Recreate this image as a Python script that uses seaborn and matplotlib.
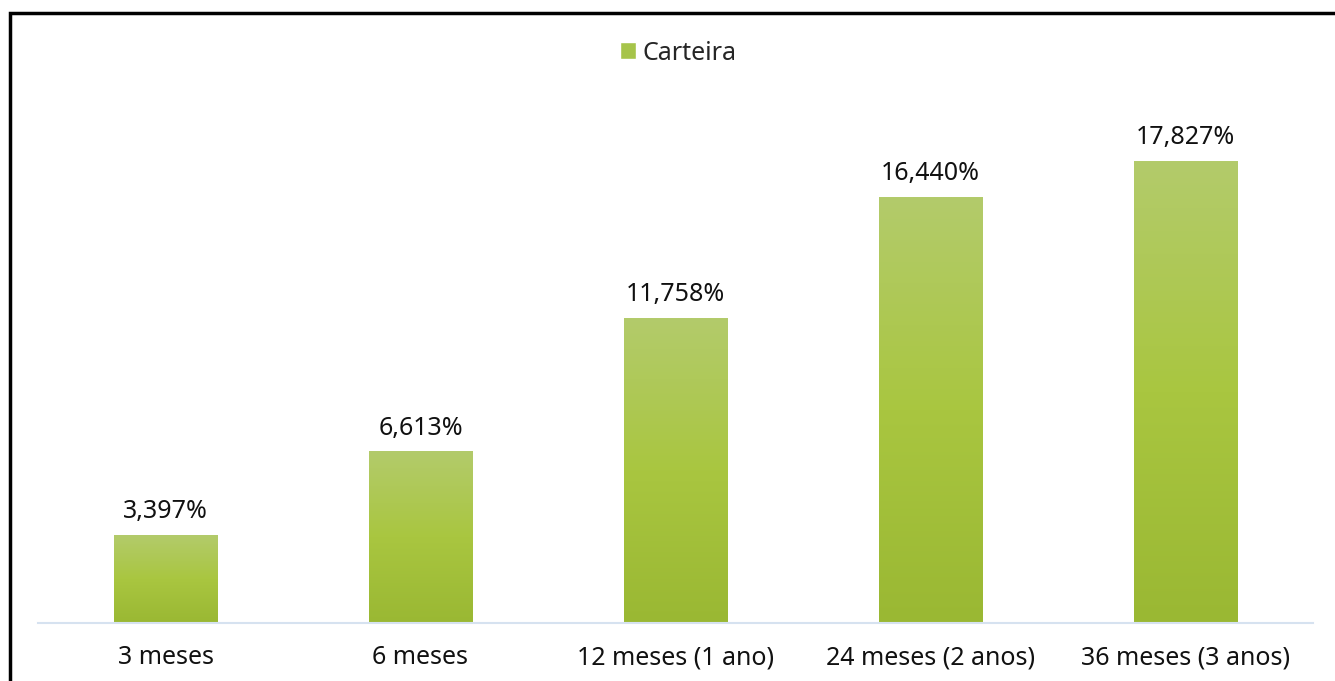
import matplotlib
matplotlib.use("Agg")
import matplotlib.pyplot as plt
import numpy as np
import seaborn as sns
from matplotlib.colors import LinearSegmentedColormap
from matplotlib.patches import Rectangle

# Data
periodos = ["3 meses", "6 meses", "12 meses (1 ano)", "24 meses (2 anos)", "36 meses (3 anos)"]
carteira = [3.397, 6.613, 11.758, 16.440, 17.827]
serie_nome = "Carteira"

W, H = 1335, 681
FS = 18
sns.set_theme(style="white")
plt.rcParams["font.family"] = ["Noto Sans", "DejaVu Sans"]

fig = plt.figure(figsize=(W / 100, H / 100), dpi=100)
ax = fig.add_axes([38 / W, 1 - 623 / H, 1275 / W, (623 - 105) / H])

sns.barplot(x=periodos, y=carteira, color="#a6c44a", width=0.404,
            label=serie_nome, ax=ax, saturation=1)

# vertical gradient on each bar: light at top, darker at the base
grad_cmap = LinearSegmentedColormap.from_list(
    "verde", ["#9ab833", "#a9c640", "#b3cb6b"])
grad = np.linspace(0, 1, 256).reshape(-1, 1)
for bar in ax.patches:
    x0, w, h = bar.get_x(), bar.get_width(), bar.get_height()
    ax.imshow(grad, extent=[x0, x0 + w, 0, h], origin="lower",
              aspect="auto", cmap=grad_cmap, zorder=bar.get_zorder() + 0.1)

ax.bar_label(ax.containers[0],
             labels=[f"{v:.3f}%".replace(".", ",") for v in carteira],
             padding=8, fontsize=FS, color="#111111")

ax.set_xlim(-0.5, 4.5)
ax.set_ylim(0, 20)
ax.set_yticks([])
ax.set_xlabel("")
ax.set_ylabel("")
for s in ["top", "right", "left"]:
    ax.spines[s].set_visible(False)
ax.spines["bottom"].set_color("#d6e2f0")
ax.spines["bottom"].set_linewidth(1.5)
ax.tick_params(axis="x", length=0, pad=16, labelsize=FS, labelcolor="#111111")

leg = ax.legend(loc="center", bbox_to_anchor=(678 / W, 1 - 53 / H),
                bbox_transform=fig.transFigure, frameon=False, fontsize=FS,
                handlelength=0.65, handleheight=0.65, handletextpad=0.25)

# outer chart frame (only top and left edges visible in the crop)
fig.patches.append(Rectangle((9.5 / W, -0.1), 2, 1 - 13 / H + 0.1,
                             transform=fig.transFigure, fill=False,
                             edgecolor="black", linewidth=2.5, clip_on=False))

fig.savefig("out.png", dpi=100)
